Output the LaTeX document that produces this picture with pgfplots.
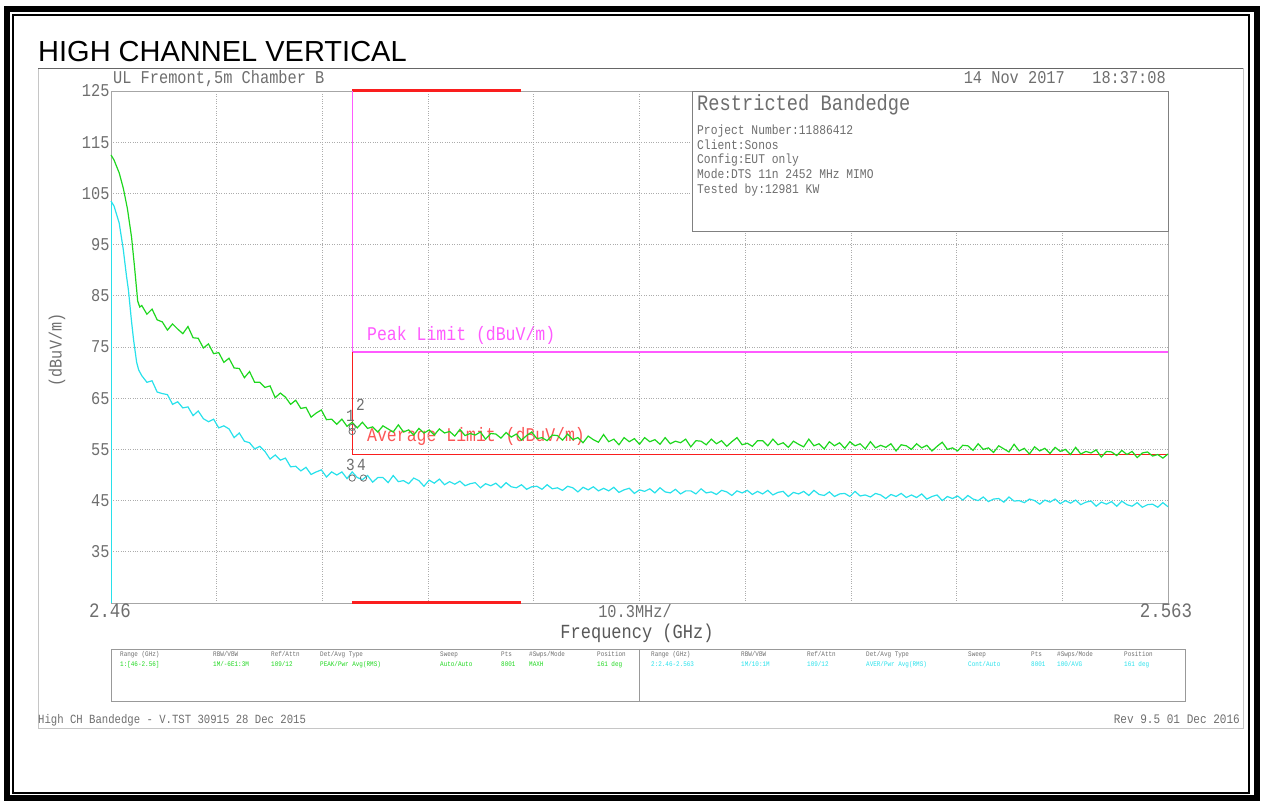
\documentclass[border=0pt]{standalone}
\usepackage{pgfplots}
\pgfplotsset{compat=1.18}
\usepackage{fontspec}
\setmainfont{Liberation Sans}
\newfontfamily\plotfont[FakeStretch=0.85]{Liberation Mono}
\newcommand\pf[1]{\plotfont\fontsize{#1}{#1}\selectfont}
\definecolor{trgreen}{RGB}{30,215,30}
\definecolor{trcyan}{RGB}{40,225,235}
\definecolor{pkpink}{RGB}{255,90,255}
\definecolor{avred}{RGB}{250,30,30}
\definecolor{txgray}{RGB}{110,110,110}
\begin{document}
\begin{tikzpicture}[x=1pt,y=1pt]
\useasboundingbox (0,0) rectangle (1262,802);
% outer frames
\draw[line width=6pt] (7,792.5) rectangle (1256.5,3.5);
\draw[line width=1.5pt] (13,787) rectangle (1249,9);
\draw[gray!45, line width=0.8pt] (38,734) rectangle (1243,74);
\draw[gray!80!black, line width=0.9pt] (38,734) -- (1243,734);
\node[anchor=base west, inner sep=0, font=\fontsize{29}{29}\selectfont] at (38,740) {HIGH CHANNEL VERTICAL};
% header
\node[anchor=base west, inner sep=0, text=txgray] at (113,718) {\pf{18}UL Fremont,5m Chamber B};
\node[anchor=base east, inner sep=0, text=txgray] at (1166,718) {\pf{18}14 Nov 2017~~~18:37:08};
% limit labels (under the traces)
\node[anchor=base west, inner sep=0, text=pkpink] at (367,461) {\pf{19.4}Peak Limit (dBuV/m)};
\node[anchor=base west, inner sep=0, text=avred!75] at (367,360) {\pf{19.4}Average Limit (dBuV/m)};

\begin{axis}[
  at={(111pt,199pt)}, anchor=south west,
  scale only axis, width=1057pt, height=512pt,
  xmin=2.46, xmax=2.563, ymin=25, ymax=125,
  xtick={2.46,2.4703,2.4806,2.4909,2.5012,2.5115,2.5218,2.5321,2.5424,2.5527,2.563},
  xticklabels={},
  ytick={25,35,45,55,65,75,85,95,105,115,125},
  yticklabels={,35,45,55,65,75,85,95,105,115,125},
  grid=major,
  major grid style={gray!65, dotted, line width=0.8pt},
  major tick length=0pt,
  axis line style={gray!70, line width=0.8pt},
  yticklabel style={font=\pf{18}, text=txgray},
  ytick style={draw=none}, xtick style={draw=none},
  yticklabel shift=-2pt,
  clip=false,
]
% limit lines
\addplot[avred, line width=3pt] coordinates {(2.4835,125) (2.5,125)};
\addplot[avred, line width=3pt] coordinates {(2.4835,25) (2.5,25)};
\addplot[pkpink, line width=1.3pt] coordinates {(2.4835,125) (2.4835,74) (2.563,74)};
\addplot[avred, line width=1.3pt] coordinates {(2.4835,74) (2.4835,54) (2.563,54)};
% cyan left edge
\addplot[trcyan, line width=1pt] coordinates {(2.46,25) (2.46,103.5)};
% peak trace (green)
\addplot[trgreen, line width=1.2pt] table {
2.4600 112.5
2.4603 111.5
2.4608 109.0
2.4612 106.0
2.4616 102.0
2.4620 96.5
2.4623 90.5
2.4626 84.0
2.4628 82.8
2.4630 83.1
2.4635 81.4
2.4640 82.4
2.4645 80.3
2.4650 79.9
2.4655 78.3
2.4660 79.5
2.4665 78.5
2.4670 77.6
2.4675 79.0
2.4680 76.8
2.4685 76.7
2.4690 74.8
2.4695 75.6
2.4700 73.7
2.4705 73.9
2.4710 72.0
2.4715 72.8
2.4720 70.9
2.4725 70.8
2.4730 69.0
2.4735 70.2
2.4740 68.1
2.4745 68.1
2.4750 67.1
2.4755 67.4
2.4760 65.1
2.4765 66.0
2.4770 65.2
2.4775 63.8
2.4780 64.6
2.4785 63.0
2.4790 63.2
2.4795 61.3
2.4800 62.1
2.4805 62.7
2.4810 60.8
2.4815 60.9
2.4820 59.9
2.4825 60.9
2.4830 59.5
2.4835 60.3
2.4840 59.2
2.4845 60.3
2.4850 59.1
2.4855 59.4
2.4860 58.4
2.4865 59.6
2.4870 59.0
2.4875 58.4
2.4880 59.8
2.4885 58.4
2.4890 58.8
2.4895 57.8
2.4900 59.1
2.4905 58.2
2.4910 58.8
2.4915 57.8
2.4920 59.0
2.4925 58.2
2.4930 58.5
2.4935 57.6
2.4940 58.9
2.4945 57.7
2.4950 58.1
2.4955 57.8
2.4960 58.4
2.4965 57.0
2.4970 58.1
2.4975 58.0
2.4980 57.2
2.4985 58.3
2.4990 57.4
2.4995 58.0
2.5000 56.8
2.5005 57.7
2.5010 58.4
2.5015 57.1
2.5020 57.3
2.5025 56.7
2.5030 57.8
2.5035 57.7
2.5040 56.8
2.5045 58.0
2.5050 56.9
2.5055 57.3
2.5060 56.3
2.5065 57.6
2.5070 56.9
2.5075 56.4
2.5080 57.9
2.5085 56.5
2.5090 57.0
2.5095 55.9
2.5100 57.3
2.5105 56.5
2.5110 57.1
2.5115 56.0
2.5120 57.3
2.5125 56.5
2.5130 56.9
2.5135 56.0
2.5140 57.3
2.5145 56.1
2.5150 56.6
2.5155 56.3
2.5160 57.0
2.5165 55.5
2.5170 56.7
2.5175 56.6
2.5180 55.9
2.5185 57.0
2.5190 56.1
2.5195 56.7
2.5200 55.6
2.5205 56.5
2.5210 57.3
2.5215 55.9
2.5220 56.2
2.5225 55.6
2.5230 56.7
2.5235 56.7
2.5240 55.7
2.5245 57.0
2.5250 55.9
2.5255 56.3
2.5260 55.4
2.5265 56.6
2.5270 56.0
2.5275 55.5
2.5280 57.0
2.5285 55.7
2.5290 56.1
2.5295 55.1
2.5300 56.5
2.5305 55.7
2.5310 56.3
2.5315 55.2
2.5320 56.5
2.5325 55.7
2.5330 56.1
2.5335 55.1
2.5340 56.5
2.5345 55.3
2.5350 55.8
2.5355 55.4
2.5360 56.1
2.5365 54.7
2.5370 55.9
2.5375 55.7
2.5380 55.0
2.5385 56.1
2.5390 55.3
2.5395 55.8
2.5400 54.7
2.5405 55.6
2.5410 56.4
2.5415 55.0
2.5420 55.3
2.5425 54.7
2.5430 55.8
2.5435 55.7
2.5440 54.8
2.5445 56.1
2.5450 55.0
2.5455 55.3
2.5460 54.4
2.5465 55.7
2.5470 55.1
2.5475 54.5
2.5480 56.0
2.5485 54.7
2.5490 55.2
2.5495 54.1
2.5500 55.5
2.5505 54.7
2.5510 55.2
2.5515 54.2
2.5520 55.4
2.5525 54.6
2.5530 55.0
2.5535 54.0
2.5540 55.4
2.5545 54.1
2.5550 54.6
2.5555 54.3
2.5560 54.9
2.5565 53.5
2.5570 54.6
2.5575 54.5
2.5580 53.8
2.5585 54.8
2.5590 54.0
2.5595 54.6
2.5600 53.4
2.5605 54.3
2.5610 54.5
2.5615 53.7
2.5620 54.0
2.5625 53.3
2.5630 54.1
};
% average trace (cyan)
\addplot[trcyan, line width=1.2pt] table {
2.4600 103.5
2.4603 102.5
2.4608 99.2
2.4612 94.0
2.4615 89.0
2.4617 86.1
2.4620 80.0
2.4622 76.4
2.4625 72.0
2.4627 70.5
2.4630 69.4
2.4635 68.1
2.4640 68.4
2.4645 66.2
2.4650 65.9
2.4655 65.7
2.4660 63.8
2.4665 64.3
2.4670 63.1
2.4675 63.3
2.4680 61.6
2.4685 62.5
2.4690 61.0
2.4695 60.4
2.4700 60.9
2.4705 59.2
2.4710 59.6
2.4715 59.0
2.4720 57.3
2.4725 58.2
2.4730 56.6
2.4735 56.3
2.4740 55.1
2.4745 55.6
2.4750 54.6
2.4755 53.1
2.4760 53.9
2.4765 52.9
2.4770 53.3
2.4775 51.6
2.4780 51.7
2.4785 50.8
2.4790 51.5
2.4795 50.1
2.4800 50.6
2.4805 51.0
2.4810 49.6
2.4815 50.6
2.4820 50.0
2.4825 50.6
2.4830 49.3
2.4835 50.6
2.4840 49.5
2.4845 49.1
2.4850 49.9
2.4855 48.6
2.4860 49.5
2.4865 49.5
2.4870 48.5
2.4875 49.9
2.4880 48.7
2.4885 48.9
2.4890 48.3
2.4895 49.4
2.4900 48.9
2.4905 47.8
2.4910 49.0
2.4915 48.4
2.4920 49.2
2.4925 48.1
2.4930 48.7
2.4935 48.2
2.4940 48.8
2.4945 47.9
2.4950 48.3
2.4955 48.5
2.4960 47.5
2.4965 48.3
2.4970 47.9
2.4975 48.4
2.4980 47.5
2.4985 48.5
2.4990 47.7
2.4995 47.5
2.5000 48.1
2.5005 47.2
2.5010 47.7
2.5015 47.8
2.5020 47.2
2.5025 48.1
2.5030 47.3
2.5035 47.5
2.5040 47.0
2.5045 47.8
2.5050 47.5
2.5055 46.7
2.5060 47.6
2.5065 47.1
2.5070 47.7
2.5075 46.9
2.5080 47.4
2.5085 46.9
2.5090 47.6
2.5095 46.6
2.5100 47.1
2.5105 47.4
2.5110 46.4
2.5115 47.1
2.5120 46.8
2.5125 47.3
2.5130 46.5
2.5135 47.5
2.5140 46.7
2.5145 46.5
2.5150 47.2
2.5155 46.3
2.5160 46.9
2.5165 46.9
2.5170 46.3
2.5175 47.3
2.5180 46.5
2.5185 46.7
2.5190 46.2
2.5195 47.0
2.5200 46.7
2.5205 46.0
2.5210 46.9
2.5215 46.5
2.5220 47.0
2.5225 46.2
2.5230 46.8
2.5235 46.3
2.5240 47.0
2.5245 46.1
2.5250 46.6
2.5255 46.8
2.5260 45.8
2.5265 46.6
2.5270 46.3
2.5275 46.8
2.5280 46.0
2.5285 47.0
2.5290 46.2
2.5295 46.0
2.5300 46.7
2.5305 45.8
2.5310 46.3
2.5315 46.4
2.5320 45.8
2.5325 46.8
2.5330 45.9
2.5335 46.1
2.5340 45.7
2.5345 46.4
2.5350 46.1
2.5355 45.4
2.5360 46.2
2.5365 45.8
2.5370 46.4
2.5375 45.6
2.5380 46.1
2.5385 45.6
2.5390 46.3
2.5395 45.3
2.5400 45.8
2.5405 46.1
2.5410 45.0
2.5415 45.8
2.5420 45.4
2.5425 45.9
2.5430 45.1
2.5435 46.0
2.5440 45.3
2.5445 45.0
2.5450 45.7
2.5455 44.8
2.5460 45.3
2.5465 45.4
2.5470 44.7
2.5475 45.7
2.5480 44.9
2.5485 45.0
2.5490 44.6
2.5495 45.3
2.5500 45.0
2.5505 44.3
2.5510 45.1
2.5515 44.7
2.5520 45.3
2.5525 44.4
2.5530 45.0
2.5535 44.5
2.5540 45.1
2.5545 44.2
2.5550 44.7
2.5555 44.9
2.5560 43.9
2.5565 44.7
2.5570 44.3
2.5575 44.8
2.5580 43.9
2.5585 44.9
2.5590 44.2
2.5595 43.9
2.5600 44.6
2.5605 43.7
2.5610 44.2
2.5615 44.3
2.5620 43.7
2.5625 44.6
2.5630 43.8
};
% markers
\addplot[only marks, mark=o, mark size=3.2pt, txgray, line width=0.8pt] coordinates {(2.4835,59.3) (2.4835,58.5)};
\addplot[only marks, mark=o, mark size=3.2pt, txgray, line width=0.8pt] coordinates {(2.4835,49.4) (2.4846,49.4)};
\end{axis}

% info box
\draw[gray, line width=0.8pt, fill=white] (692,711) rectangle (1168,571);
\node[anchor=base west, inner sep=0, text=txgray] at (697,691) {\pf{22}Restricted Bandedge};
\node[anchor=base west, inner sep=0, text=txgray] at (697,667) {\pf{13.3}Project Number:11886412};
\node[anchor=base west, inner sep=0, text=txgray] at (697,652) {\pf{13.3}Client:Sonos};
\node[anchor=base west, inner sep=0, text=txgray] at (697,638) {\pf{13.3}Config:EUT only};
\node[anchor=base west, inner sep=0, text=txgray] at (697,623) {\pf{13.3}Mode:DTS 11n 2452 MHz MIMO};
\node[anchor=base west, inner sep=0, text=txgray] at (697,608) {\pf{13.3}Tested by:12981 KW};

% marker labels
\node[anchor=base west, inner sep=0, text=txgray] at (346,380) {\pf{17}1};
\node[anchor=base west, inner sep=0, text=txgray] at (356,391) {\pf{17}2};
\node[anchor=base west, inner sep=0, text=txgray] at (346,331) {\pf{17}3};
\node[anchor=base west, inner sep=0, text=txgray] at (357,331) {\pf{17}4};

% x axis texts
\node[anchor=base, inner sep=0, text=txgray] at (110,184) {\pf{20.5}2.46};
\node[anchor=base, inner sep=0, text=txgray] at (635,184) {\pf{18}10.3MHz/};
\node[anchor=base, inner sep=0, text=txgray] at (1166,184) {\pf{20.5}2.563};
\node[anchor=base, inner sep=0, text=txgray!80!black] at (637,163) {\pf{20}Frequency (GHz)};
\node[rotate=90, inner sep=0, text=txgray] at (57,452) {\pf{17.8}(dBuV/m)};

% settings table
\draw[gray!80, line width=0.8pt] (111,153) rectangle (1185,101);
\draw[gray!80, line width=0.8pt] (639,153) -- (639,101);
\begin{scope}[every node/.style={anchor=base west, inner sep=0}]
\node[text=txgray] at (120,145) {\pf{7}Range (GHz)};
\node[text=txgray] at (213,145) {\pf{7}RBW/VBW};
\node[text=txgray] at (271,145) {\pf{7}Ref/Attn};
\node[text=txgray] at (320,145) {\pf{7}Det/Avg Type};
\node[text=txgray] at (440,145) {\pf{7}Sweep};
\node[text=txgray] at (501,145) {\pf{7}Pts};
\node[text=txgray] at (529,145) {\pf{7}\#Swps/Mode};
\node[text=txgray] at (597,145) {\pf{7}Position};
\node[text=trgreen] at (120,135) {\pf{7}1:[46-2.56]};
\node[text=trgreen] at (213,135) {\pf{7}1M/-6E1:3M};
\node[text=trgreen] at (271,135) {\pf{7}109/12};
\node[text=trgreen] at (320,135) {\pf{7}PEAK/Pwr Avg(RMS)};
\node[text=trgreen] at (440,135) {\pf{7}Auto/Auto};
\node[text=trgreen] at (501,135) {\pf{7}8001};
\node[text=trgreen] at (529,135) {\pf{7}MAXH};
\node[text=trgreen] at (597,135) {\pf{7}161 deg};
\node[text=txgray] at (651,145) {\pf{7}Range (GHz)};
\node[text=txgray] at (741,145) {\pf{7}RBW/VBW};
\node[text=txgray] at (807,145) {\pf{7}Ref/Attn};
\node[text=txgray] at (866,145) {\pf{7}Det/Avg Type};
\node[text=txgray] at (968,145) {\pf{7}Sweep};
\node[text=txgray] at (1031,145) {\pf{7}Pts};
\node[text=txgray] at (1057,145) {\pf{7}\#Swps/Mode};
\node[text=txgray] at (1124,145) {\pf{7}Position};
\node[text=trcyan] at (651,135) {\pf{7}2:2.46-2.563};
\node[text=trcyan] at (741,135) {\pf{7}1M/10:1M};
\node[text=trcyan] at (807,135) {\pf{7}109/12};
\node[text=trcyan] at (866,135) {\pf{7}AVER/Pwr Avg(RMS)};
\node[text=trcyan] at (968,135) {\pf{7}Cont/Auto};
\node[text=trcyan] at (1031,135) {\pf{7}8001};
\node[text=trcyan] at (1057,135) {\pf{7}100/AVG};
\node[text=trcyan] at (1124,135) {\pf{7}161 deg};
\end{scope}

% footer
\node[anchor=base west, inner sep=0, text=txgray] at (38,78) {\pf{12.5}High CH Bandedge - V.TST 30915 28 Dec 2015};
\node[anchor=base east, inner sep=0, text=txgray] at (1240,78) {\pf{13}Rev 9.5 01 Dec 2016};
\end{tikzpicture}
\end{document}
